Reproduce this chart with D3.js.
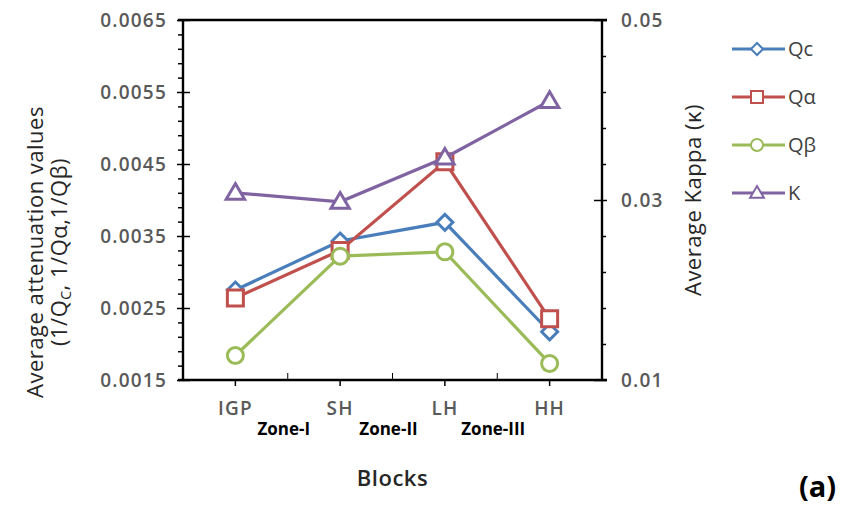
<!DOCTYPE html>
<html>

<head>
    <title>Attenuation and Kappa by block</title>
    <script src='https://cdn.jsdelivr.net/npm/d3@7'></script>
    <style type='text/css'>
        html,
        body {
            margin: 0;
            padding: 0;
            background: white;
        }

        text {
            font-family: 'Open Sans', 'DejaVu Sans', sans-serif;
        }

        .tick text {
            fill: #595959;
            font-size: 19px;
            font-weight: 600;
            letter-spacing: 1.2px;
        }

        .title {
            fill: #262626;
            font-size: 22px;
            letter-spacing: 0.5px;
        }
    </style>
</head>

<body>
    <script>
        // Data:
        const blocks = ['IGP', 'SH', 'LH', 'HH'];
        const zones = ['Zone-I', 'Zone-II', 'Zone-III'];
        const qc = [0.00275, 0.00343, 0.00369, 0.00217];
        const qAlpha = [0.00264, 0.00330, 0.00453, 0.00235];
        const qBeta = [0.00184, 0.00322, 0.00328, 0.00173];
        const kappa = [0.0308, 0.0298, 0.0347, 0.0410];
        const leftTicks = [0.0015, 0.0025, 0.0035, 0.0045, 0.0055, 0.0065];
        const rightTicks = [0.01, 0.03, 0.05];

        // page setup:
        const width = 842, height = 505;
        const plot = { left: 183, right: 602, top: 20, bottom: 380 };
        const svg = d3.select('body').append('svg')
            .attr('width', width)
            .attr('height', height);

        // scales:
        const x = d3.scaleBand().domain(blocks).range([plot.left, plot.right]);
        const yLeft = d3.scaleLinear().domain([0.0015, 0.0065]).range([plot.bottom, plot.top]);
        const yRight = d3.scaleLinear().domain([0.01, 0.05]).range([plot.bottom, plot.top]);

        // minor ticks every fifth of a major step
        const leftMinor = d3.range(0.0015, 0.0065, 0.0002).filter(v => Math.abs(v * 10000 - 5) % 10 > 0.5);
        const rightMinor = d3.range(0.01, 0.05, 0.004).filter(v => Math.abs(v * 1000 - 10) % 20 > 0.5);

        const series = [
            { name: 'Qc', values: qc, y: yLeft, color: '#4A7EBB', shape: 'diamond' },
            { name: 'Q\u03b1', values: qAlpha, y: yLeft, color: '#C0504D', shape: 'square' },
            { name: 'Q\u03b2', values: qBeta, y: yLeft, color: '#9BBB59', shape: 'circle' },
            { name: '\u039a', values: kappa, y: yRight, color: '#8064A2', shape: 'triangle' }
        ];

        // marker shapes, s = half size
        let markerPath = (shape, s) => {
            if (shape === 'diamond') return `M0,${-s}L${s},0L0,${s}L${-s},0Z`;
            if (shape === 'square') return `M${-s},${-s}H${s}V${s}H${-s}Z`;
            if (shape === 'triangle') return `M0,${-s * 1.15}L${s * 1.15},${s * 0.8}L${-s * 1.15},${s * 0.8}Z`;
            return d3.arc()({ innerRadius: 0, outerRadius: s, startAngle: 0, endAngle: 2 * Math.PI });
        };

        // Axes:
        const axes = svg.append('g').attr('class', 'axes');

        // left axis: labels + outer part of major ticks
        axes.append('g')
            .attr('transform', `translate(${plot.left},0)`)
            .call(d3.axisLeft(yLeft).tickValues(leftTicks).tickSize(6).tickPadding(10).tickFormat(d3.format('.4f')))
            .call(g => g.select('.domain').remove());
        // inner part of major ticks
        axes.append('g')
            .attr('transform', `translate(${plot.left},0)`)
            .call(d3.axisRight(yLeft).tickValues(leftTicks).tickSize(7).tickFormat(''))
            .call(g => g.select('.domain').remove());
        // minor ticks
        axes.append('g')
            .attr('transform', `translate(${plot.left},0)`)
            .call(d3.axisLeft(yLeft).tickValues(leftMinor).tickSize(5).tickFormat(''))
            .call(g => g.select('.domain').remove());

        // right axis
        axes.append('g')
            .attr('transform', `translate(${plot.right},0)`)
            .call(d3.axisRight(yRight).tickValues(rightTicks).tickSize(5).tickPadding(14).tickFormat(d3.format('.2f')))
            .call(g => g.select('.domain').remove());
        axes.append('g')
            .attr('transform', `translate(${plot.right},0)`)
            .call(d3.axisLeft(yRight).tickValues(rightTicks).tickSize(8).tickFormat(''))
            .call(g => g.select('.domain').remove());
        axes.append('g')
            .attr('transform', `translate(${plot.right},0)`)
            .call(d3.axisRight(yRight).tickValues(rightMinor).tickSize(4).tickFormat(''))
            .call(g => g.select('.domain').remove());

        // bottom axis: category centre ticks go down, boundary ticks go up
        axes.append('g')
            .attr('transform', `translate(0,${plot.bottom})`)
            .call(d3.axisBottom(x).tickSize(6).tickPadding(16))
            .call(g => g.select('.domain').remove());
        axes.append('g')
            .attr('transform', `translate(0,${plot.bottom})`)
            .selectAll('line')
            .data(blocks.slice(1))
            .join('line')
            .attr('x1', d => x(d)).attr('x2', d => x(d))
            .attr('y1', 0).attr('y2', -7)
            .attr('stroke', 'black');

        axes.selectAll('.tick line').attr('stroke', 'black').attr('stroke-width', 1.5);

        // frame lines (left, right, top, bottom)
        const frame = axes.append('g').attr('stroke', 'black').attr('stroke-width', 2.4);
        frame.append('line').attr('x1', plot.left).attr('x2', plot.left).attr('y1', plot.top).attr('y2', plot.bottom);
        frame.append('line').attr('x1', plot.right).attr('x2', plot.right).attr('y1', plot.top).attr('y2', plot.bottom);
        frame.append('line').attr('x1', plot.left - 5).attr('x2', plot.right + 5).attr('y1', plot.top).attr('y2', plot.top);
        frame.append('line').attr('x1', plot.left - 5).attr('x2', plot.right + 5).attr('y1', plot.bottom).attr('y2', plot.bottom);

        // Zone labels sit on the block boundaries
        svg.append('g')
            .selectAll('text')
            .data(zones)
            .join('text')
            .attr('x', (d, i) => x(blocks[i + 1]) - 4)
            .attr('y', 435)
            .attr('text-anchor', 'middle')
            .attr('font-size', 17)
            .attr('font-weight', 'bold')
            .attr('fill', 'black')
            .text(d => d);

        // Axis titles
        svg.append('text')
            .attr('class', 'title')
            .attr('x', x.range()[0] + (x.range()[1] - x.range()[0]) / 2)
            .attr('y', 486)
            .attr('text-anchor', 'middle')
            .attr('font-weight', 600)
            .text('Blocks');

        const leftTitle = svg.append('text')
            .attr('class', 'title')
            .attr('transform', 'translate(0,252) rotate(-90)')
            .attr('text-anchor', 'middle');
        leftTitle.append('tspan').attr('x', 0).attr('y', 43).text('Average attenuation values');
        const sub = leftTitle.append('tspan').attr('x', 0).attr('y', 67);
        sub.append('tspan').text('(1/Q');
        sub.append('tspan').attr('font-size', 14).attr('dy', 4).text('C');
        sub.append('tspan').attr('dy', -4).text(', 1/Q\u03b1,1/Q\u03b2)');

        svg.append('text')
            .attr('class', 'title')
            .attr('transform', 'translate(701,200) rotate(-90)')
            .attr('text-anchor', 'middle')
            .text('Average Kappa (\u03ba)');

        // Lines and markers:
        const line = (s) => d3.line()
            .x((d, i) => x(blocks[i]) + x.bandwidth() / 2)
            .y(d => s.y(d));

        const seriesG = svg.append('g')
            .selectAll('g')
            .data(series)
            .join('g');
        seriesG.append('path')
            .attr('fill', 'none')
            .attr('stroke', d => d.color)
            .attr('stroke-width', 3.2)
            .attr('d', d => line(d)(d.values));
        seriesG.selectAll('.marker')
            .data(d => d.values.map((v, i) => ({ s: d, v, i })))
            .join('path')
            .attr('class', 'marker')
            .attr('transform', d => `translate(${x(blocks[d.i]) + x.bandwidth() / 2},${d.s.y(d.v)})`)
            .attr('d', d => markerPath(d.s.shape, 8))
            .attr('fill', 'white')
            .attr('stroke', d => d.s.color)
            .attr('stroke-width', 3);

        // Legend:
        const legend = svg.append('g')
            .selectAll('g')
            .data(series)
            .join('g')
            .attr('transform', (d, i) => `translate(732,${49 + i * 48})`);
        legend.append('line')
            .attr('x1', 0).attr('x2', 53)
            .attr('stroke', d => d.color)
            .attr('stroke-width', 3);
        legend.append('path')
            .attr('transform', 'translate(25,0)')
            .attr('d', d => markerPath(d.shape, 6))
            .attr('fill', 'white')
            .attr('stroke', d => d.color)
            .attr('stroke-width', 2);
        legend.append('text')
            .attr('x', 56)
            .attr('dy', '0.35em')
            .attr('font-size', 20)
            .attr('fill', '#404040')
            .text(d => d.name);

        // panel label
        svg.append('text')
            .attr('x', 799)
            .attr('y', 497)
            .attr('font-size', 29)
            .attr('font-weight', 'bold')
            .attr('fill', 'black')
            .text('(a)');
    </script>
</body>

</html>
